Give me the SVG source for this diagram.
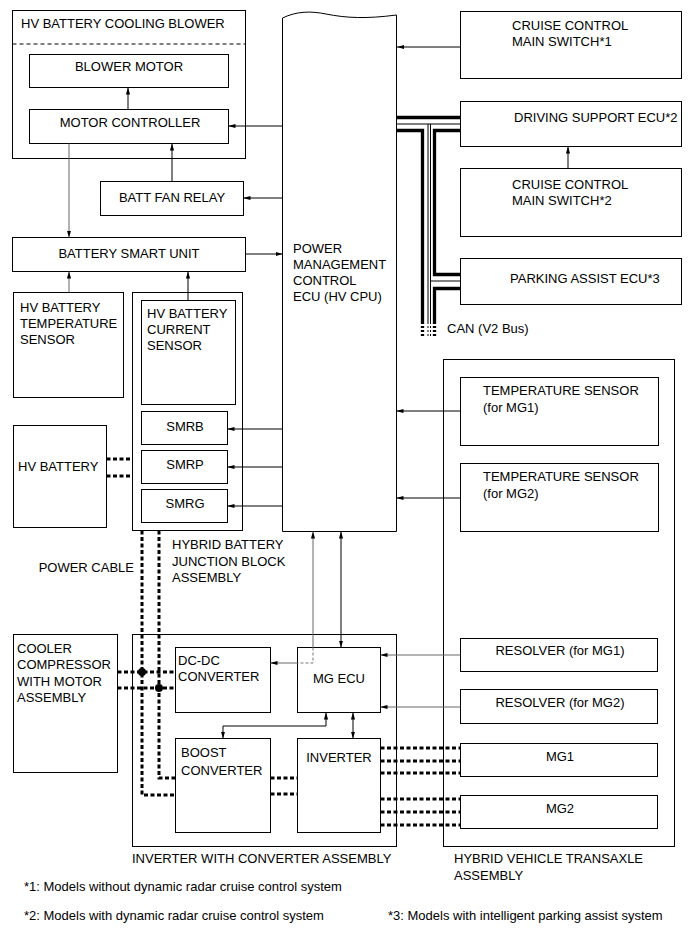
<svg xmlns="http://www.w3.org/2000/svg" width="690" height="952" viewBox="0 0 690 952">
<defs>
<marker id="ah" viewBox="0 0 10 10" refX="10" refY="5" markerWidth="7" markerHeight="7" markerUnits="userSpaceOnUse" orient="auto-start-reverse"><path d="M0,2 L10,5 L0,8 z" fill="#000"/></marker>
</defs>
<style>
text{font-family:"Liberation Sans",Arial,Helvetica,sans-serif;font-size:13px;fill:#000}
.box{fill:#fff;stroke:#000;stroke-width:1}
.ln{fill:none;stroke:#000;stroke-width:1}
.gl{fill:none;stroke:#666;stroke-width:1}
.gd{fill:none;stroke:#777;stroke-width:1;stroke-dasharray:3 2}
.pw{fill:none;stroke:#000;stroke-width:3;stroke-dasharray:4 2.5}
.ck{fill:none;stroke:#000;stroke-width:3.3}
.cn{fill:none;stroke:#000;stroke-width:1}
.m{text-anchor:middle}
</style>
<rect width="690" height="952" fill="#fff"/>

<g id="blower">
<rect class="box" x="12.5" y="10.5" width="233" height="148"/>
<line x1="12.5" y1="44" x2="245.5" y2="44" stroke="#000" stroke-dasharray="4 3"/>
<text x="21" y="28">HV BATTERY COOLING BLOWER</text>
</g>
<g id="blower-motor">
<rect class="box" x="29.5" y="54.5" width="199" height="33"/>
<text class="m" x="129" y="71">BLOWER MOTOR</text>
</g>
<g id="motor-controller">
<rect class="box" x="29.5" y="109.5" width="199" height="34"/>
<text class="m" x="130" y="127">MOTOR CONTROLLER</text>
</g>
<g id="batt-fan-relay">
<rect class="box" x="100.5" y="181.5" width="143" height="34"/>
<text class="m" x="172" y="202">BATT FAN RELAY</text>
</g>
<g id="battery-smart-unit">
<rect class="box" x="12.5" y="237.5" width="233" height="34"/>
<text class="m" x="129" y="258">BATTERY SMART UNIT</text>
</g>
<g id="hv-batt-temp">
<rect class="box" x="13.5" y="292.5" width="110" height="105"/>
<text x="20" y="312">HV BATTERY</text>
<text x="20" y="328">TEMPERATURE</text>
<text x="20" y="344">SENSOR</text>
</g>
<g id="junction-block">
<rect class="box" x="132.5" y="292.5" width="110" height="238"/>
<text x="172" y="549">HYBRID BATTERY</text>
<text x="172" y="566">JUNCTION BLOCK</text>
<text x="172" y="582">ASSEMBLY</text>
</g>
<g id="current-sensor">
<rect class="box" x="141.5" y="300.5" width="94" height="104"/>
<text x="147" y="318">HV BATTERY</text>
<text x="147" y="334">CURRENT</text>
<text x="147" y="350">SENSOR</text>
</g>
<g id="smrb">
<rect class="box" x="141.5" y="411.5" width="86" height="33"/>
<text class="m" x="185" y="431">SMRB</text>
</g>
<g id="smrp">
<rect class="box" x="141.5" y="450.5" width="86" height="33"/>
<text class="m" x="185" y="469">SMRP</text>
</g>
<g id="smrg">
<rect class="box" x="141.5" y="489.5" width="86" height="33"/>
<text class="m" x="185" y="508">SMRG</text>
</g>
<g id="hv-battery">
<rect class="box" x="13.5" y="425.5" width="93" height="102"/>
<text x="18" y="471">HV BATTERY</text>
</g>
<g id="power-cable-label">
<text x="134" y="572" text-anchor="end">POWER CABLE</text>
</g>
<g id="pm-ecu">
<path class="box" d="M282.5,531.5 V18 C297,11 311,11 326,14 C346,18 366,19 396.5,15 V531.5 Z"/>
<text x="293" y="253">POWER</text>
<text x="293" y="269">MANAGEMENT</text>
<text x="293" y="285">CONTROL</text>
<text x="293" y="301">ECU (HV CPU)</text>
</g>
<g id="ccms1">
<rect class="box" x="460.5" y="11.5" width="221" height="67"/>
<text x="512" y="30">CRUISE CONTROL</text>
<text x="512" y="46">MAIN SWITCH*1</text>
</g>
<g id="driving-support-ecu">
<rect class="box" x="460.5" y="101.5" width="221" height="45"/>
<text x="514" y="122">DRIVING SUPPORT ECU*2</text>
</g>
<g id="ccms2">
<rect class="box" x="460.5" y="168.5" width="221" height="68"/>
<text x="512" y="189">CRUISE CONTROL</text>
<text x="512" y="205">MAIN SWITCH*2</text>
</g>
<g id="parking-assist-ecu">
<rect class="box" x="460.5" y="258.5" width="221" height="46"/>
<text x="510" y="283">PARKING ASSIST ECU*3</text>
</g>
<g id="can-label">
<text x="447" y="333">CAN (V2 Bus)</text>
</g>
<g id="transaxle">
<rect class="box" x="443.5" y="359.5" width="231" height="487"/>
<text x="454" y="863">HYBRID VEHICLE TRANSAXLE</text>
<text x="454" y="880">ASSEMBLY</text>
</g>
<g id="temp-mg1">
<rect class="box" x="460.5" y="377.5" width="198" height="68"/>
<text x="483" y="395">TEMPERATURE SENSOR</text>
<text x="483" y="412">(for MG1)</text>
</g>
<g id="temp-mg2">
<rect class="box" x="460.5" y="463.5" width="198" height="68"/>
<text x="483" y="481">TEMPERATURE SENSOR</text>
<text x="483" y="498">(for MG2)</text>
</g>
<g id="resolver-mg1">
<rect class="box" x="460.5" y="638.5" width="197" height="33"/>
<text class="m" x="560" y="655">RESOLVER (for MG1)</text>
</g>
<g id="resolver-mg2">
<rect class="box" x="460.5" y="689.5" width="197" height="34"/>
<text class="m" x="560" y="707">RESOLVER (for MG2)</text>
</g>
<g id="mg1">
<rect class="box" x="460.5" y="743.5" width="197" height="33"/>
<text class="m" x="560" y="761">MG1</text>
</g>
<g id="mg2">
<rect class="box" x="460.5" y="795.5" width="197" height="33"/>
<text class="m" x="560" y="813">MG2</text>
</g>
<g id="cooler-compressor">
<rect class="box" x="13.5" y="634.5" width="104" height="138"/>
<text x="17" y="653">COOLER</text>
<text x="17" y="669">COMPRESSOR</text>
<text x="17" y="686">WITH MOTOR</text>
<text x="17" y="702">ASSEMBLY</text>
</g>
<g id="inverter-assembly">
<rect class="box" x="132.5" y="634.5" width="264" height="212"/>
<text x="132" y="863">INVERTER WITH CONVERTER ASSEMBLY</text>
</g>
<g id="dc-dc">
<rect class="box" x="175.5" y="647.5" width="95" height="65"/>
<text x="178" y="665">DC-DC</text>
<text x="178" y="681">CONVERTER</text>
</g>
<g id="mg-ecu">
<rect class="box" x="297.5" y="647.5" width="83" height="65"/>
<text class="m" x="339" y="683">MG ECU</text>
</g>
<g id="boost-converter">
<rect class="box" x="175.5" y="738.5" width="95" height="94"/>
<text x="181" y="757">BOOST</text>
<text x="181" y="775">CONVERTER</text>
</g>
<g id="inverter">
<rect class="box" x="297.5" y="738.5" width="83" height="94"/>
<text class="m" x="339" y="762">INVERTER</text>
</g>

<g id="connectors">
<path class="ln" d="M460.5,47 H397" marker-end="url(#ah)"/>
<path class="ln" d="M282.5,126 H228.5" marker-end="url(#ah)"/>
<path class="ln" d="M282.5,198 H243.5" marker-end="url(#ah)"/>
<path class="ln" d="M245.5,254 H282.5" marker-end="url(#ah)"/>
<path class="ln" d="M128,109.5 V87.5" marker-end="url(#ah)"/>
<path class="ln" d="M172,181.5 V143.5" marker-end="url(#ah)"/>
<path class="gl" d="M69,143.5 V237.5" marker-end="url(#ah)"/>
<path class="gl" d="M69,292.5 V271.5" marker-end="url(#ah)"/>
<path class="ln" d="M188,300.5 V271.5" marker-end="url(#ah)"/>
<path class="ln" d="M282.5,429 H227.5" marker-end="url(#ah)"/>
<path class="ln" d="M282.5,467 H227.5" marker-end="url(#ah)"/>
<path class="ln" d="M282.5,506 H227.5" marker-end="url(#ah)"/>
<path class="ln" d="M568,168.5 V146.5" marker-end="url(#ah)"/>
<path class="ln" d="M460.5,411 H396.5" marker-end="url(#ah)"/>
<path class="ln" d="M460.5,498 H396.5" marker-end="url(#ah)"/>
<path class="gl" d="M460.5,655 H380.5" marker-end="url(#ah)"/>
<path class="gl" d="M460.5,707 H380.5" marker-end="url(#ah)"/>
<path class="ln" d="M341,531.5 V647.5" marker-start="url(#ah)" marker-end="url(#ah)"/>
<path class="gl" d="M313,647.5 V531.5" marker-end="url(#ah)"/>
<path class="gd" d="M313,647.5 V663 H297.5"/>
<path class="gl" d="M297.5,663 H270.5" marker-end="url(#ah)"/>
<path class="ln" d="M326,712.5 V726 H223 V738.5" marker-start="url(#ah)" marker-end="url(#ah)"/>
<path class="ln" d="M353,712.5 V738.5" marker-start="url(#ah)" marker-end="url(#ah)"/>

<path class="pw" d="M106.5,459 H132.5 M106.5,476 H132.5"/>
<path class="pw" d="M142,530.5 V795 H175.5"/>
<path class="pw" d="M159,530.5 V778 H175.5"/>
<path class="pw" d="M117.5,672 H175.5 M117.5,688 H175.5"/>
<circle cx="142" cy="672" r="4" fill="#000"/>
<circle cx="159" cy="688" r="4" fill="#000"/>
<path class="pw" d="M270.5,778 H297.5 M270.5,794 H297.5"/>
<path class="pw" d="M380.5,748 H460.5 M380.5,761 H460.5 M380.5,773 H460.5"/>
<path class="pw" d="M380.5,799 H460.5 M380.5,812 H460.5 M380.5,825 H460.5"/>

<path class="ck" d="M397,117.5 H461"/>
<path class="ck" d="M397,130.5 H422.5 V322"/>
<path class="ck" d="M461,130.5 H434.5 V274.5 H461"/>
<path class="ck" d="M461,288.5 H434.5 V322"/>
<path class="cn" d="M397,124 H461"/>
<path class="cn" d="M428,124 V322"/>
<path class="cn" d="M430.5,124 V322 M430.5,281 H461"/>
<path fill="none" stroke="#000" stroke-width="3.3" stroke-dasharray="2 2" d="M422.5,322 V338 M434.5,322 V338"/>
<path fill="none" stroke="#000" stroke-width="1" stroke-dasharray="2 2" d="M428,322 V338 M430.5,322 V338"/>
</g>

<g id="footnotes">
<text x="24" y="891">*1: Models without dynamic radar cruise control system</text>
<text x="24" y="920">*2: Models with dynamic radar cruise control system</text>
<text x="388" y="920">*3: Models with intelligent parking assist system</text>
</g>
</svg>
